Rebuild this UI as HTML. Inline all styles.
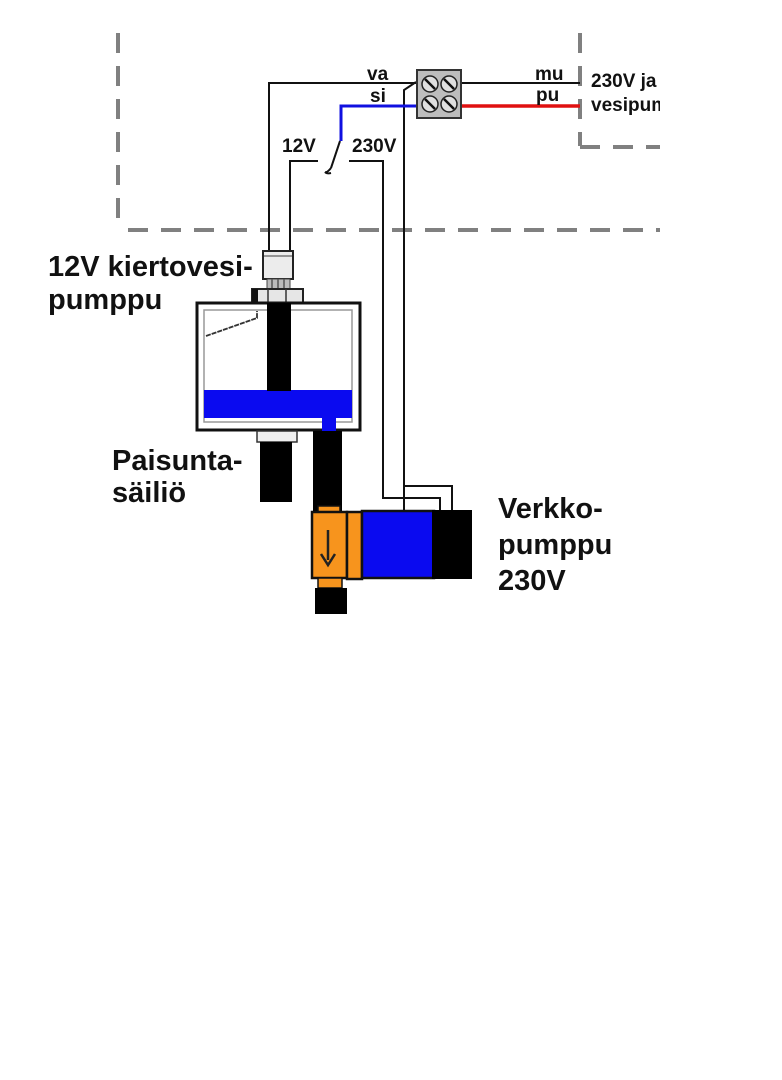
<!DOCTYPE html>
<html>
<head>
<meta charset="utf-8">
<style>
html,body{margin:0;padding:0;background:#fff;}
body{width:782px;height:1080px;position:relative;overflow:hidden;}
svg{position:absolute;left:0;top:0;}
text{font-family:"Liberation Sans",Arial,sans-serif;font-weight:bold;fill:#111;}
</style>
</head>
<body>
<svg width="782" height="1080" viewBox="0 0 782 1080">
<defs>
<clipPath id="c"><rect x="0" y="0" width="660" height="1080"/></clipPath>
</defs>
<g clip-path="url(#c)">
<!-- dashed boundary lines -->
<g stroke="#808080" stroke-width="4" fill="none">
<line x1="118" y1="33" x2="118" y2="226" stroke-dasharray="20 13"/>
<line x1="128" y1="230" x2="660" y2="230" stroke-dasharray="20 13"/>
<line x1="580" y1="33" x2="580" y2="146" stroke-dasharray="20 13"/>
<line x1="580" y1="147" x2="660" y2="147" stroke-dasharray="20 13"/>
</g>

<!-- wires -->
<g stroke="#111" stroke-width="2" fill="none">
<polyline points="269,252 269,83 417,83"/>
<line x1="461" y1="83" x2="580" y2="83"/>
<polyline points="404,510 404,90 416,82"/>
<polyline points="290,252 290,161 318,161"/>
<polyline points="349,161 383,161 383,498 440,498 440,510"/>
<polyline points="404,486 452,486 452,510"/>
<polyline points="340,141 331,168"/>
<path d="M331,168 q-4,5 -6,4 q2,2 6,1"/>
</g>
<polyline points="341,141 341,106 417,106" stroke="#1010e0" stroke-width="3" fill="none"/>
<line x1="461" y1="106" x2="580" y2="106" stroke="#e01010" stroke-width="3.5"/>

<!-- terminal block -->
<rect x="417" y="70" width="44" height="48" fill="#bdbdbd" stroke="#333" stroke-width="2"/>
<g fill="#e0e0e0" stroke="#222" stroke-width="1.5">
<circle cx="430" cy="84" r="8"/><circle cx="449" cy="84" r="8"/>
<circle cx="430" cy="104" r="8"/><circle cx="449" cy="104" r="8"/>
</g>
<g stroke="#111" stroke-width="2.5">
<line x1="425" y1="79" x2="435" y2="89"/><line x1="444" y1="79" x2="454" y2="89"/>
<line x1="425" y1="99" x2="435" y2="109"/><line x1="444" y1="99" x2="454" y2="109"/>
</g>

<!-- small labels -->
<g font-size="19">
<text x="367" y="80">va</text>
<text x="370" y="102">si</text>
<text x="535" y="80">mu</text>
<text x="536" y="101">pu</text>
<text x="282" y="152">12V</text>
<text x="352" y="152">230V</text>
<text x="591" y="87">230V ja</text>
<text x="591" y="111">vesipumppu</text>
</g>

<!-- pump connector -->
<rect x="263" y="251" width="30" height="28" fill="#ececec" stroke="#222" stroke-width="2"/>
<line x1="264" y1="256" x2="292" y2="256" stroke="#777" stroke-width="1.5"/>
<rect x="267" y="279" width="23" height="10" fill="#bbb" stroke="#444" stroke-width="1"/>
<g stroke="#555" stroke-width="1.5"><line x1="272" y1="279" x2="272" y2="289"/><line x1="278" y1="279" x2="278" y2="289"/><line x1="284" y1="279" x2="284" y2="289"/></g>
<rect x="252" y="289" width="51" height="14" fill="#e6e6e6" stroke="#222" stroke-width="2"/>
<rect x="252" y="289" width="6" height="14" fill="#111"/>
<g stroke="#333" stroke-width="1.5"><line x1="268" y1="289" x2="268" y2="303"/><line x1="286" y1="289" x2="286" y2="303"/></g>

<!-- tank -->
<rect x="197" y="303" width="163" height="127" fill="#fff" stroke="#111" stroke-width="3"/>
<rect x="204" y="310" width="148" height="112" fill="none" stroke="#999" stroke-width="1.5"/>
<rect x="204" y="390" width="148" height="28" fill="#0a0af0"/>
<rect x="322" y="416" width="14" height="16" fill="#0a0af0"/>
<rect x="267" y="303" width="24" height="88" fill="#000"/>
<polyline points="206,336 257,318 257,311" fill="none" stroke="#333" stroke-width="1.8" stroke-dasharray="5 1"/>

<!-- below tank -->
<rect x="257" y="431" width="40" height="11" fill="#f0f0f0" stroke="#333" stroke-width="1.5"/>
<rect x="260" y="442" width="32" height="60" fill="#000"/>
<rect x="313" y="431" width="29" height="80" fill="#000"/>

<!-- network pump -->
<rect x="318" y="506" width="22" height="8" fill="#f7941d" stroke="#111" stroke-width="1.5"/>
<rect x="312" y="512" width="35" height="66" fill="#f7941d" stroke="#111" stroke-width="2.5"/>
<rect x="347" y="512" width="15" height="67" fill="#f7941d" stroke="#111" stroke-width="2.5"/>
<rect x="362" y="511" width="72" height="67" fill="#0a0af0" stroke="#111" stroke-width="2.5"/>
<rect x="432" y="510" width="40" height="69" fill="#000"/>
<rect x="318" y="578" width="24" height="10" fill="#f7941d" stroke="#111" stroke-width="1.5"/>
<rect x="315" y="588" width="32" height="26" fill="#000"/>
<line x1="328" y1="530" x2="328" y2="560" stroke="#222" stroke-width="2.5"/>
<polyline points="321,554 328,565 335,554" fill="none" stroke="#222" stroke-width="2.5"/>

<!-- big labels -->
<g font-size="29">
<text x="48" y="276">12V kiertovesi-</text>
<text x="48" y="309">pumppu</text>
<text x="112" y="470">Paisunta-</text>
<text x="112" y="502">säiliö</text>
<text x="498" y="518">Verkko-</text>
<text x="498" y="554">pumppu</text>
<text x="498" y="590">230V</text>
</g>
</g>
</svg>
</body>
</html>
